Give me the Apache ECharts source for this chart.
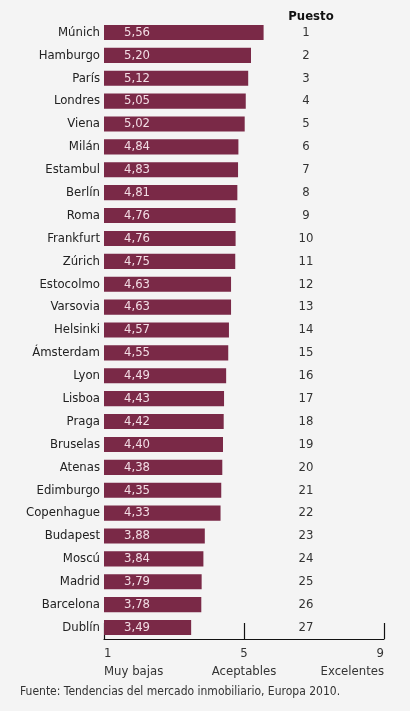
<!DOCTYPE html>
<html>
<head>
<meta charset="utf-8">
<script src="https://cdn.jsdelivr.net/npm/echarts@6/dist/echarts.min.js"></script>
<style>
  html, body { margin: 0; padding: 0; background: #f4f4f4; }
  #chart { width: 410px; height: 711px; }
</style>
</head>
<body>
<div id="chart"></div>
<script>
// ciudades, de mayor a menor
var ciudades = ["Múnich", "Hamburgo", "París", "Londres", "Viena", "Milán", "Estambul", "Berlín", "Roma",
  "Frankfurt", "Zúrich", "Estocolmo", "Varsovia", "Helsinki", "Ámsterdam", "Lyon", "Lisboa", "Praga",
  "Bruselas", "Atenas", "Edimburgo", "Copenhague", "Budapest", "Moscú", "Madrid", "Barcelona", "Dublín"];
var valores = [5.56, 5.20, 5.12, 5.05, 5.02, 4.84, 4.83, 4.81, 4.76, 4.76, 4.75, 4.63, 4.63, 4.57,
  4.55, 4.49, 4.43, 4.42, 4.40, 4.38, 4.35, 4.33, 3.88, 3.84, 3.79, 3.78, 3.49];
var puestos = ["1", "2", "3", "4", "5", "6", "7", "8", "9", "10", "11", "12", "13", "14", "15", "16",
  "17", "18", "19", "20", "21", "22", "23", "24", "25", "26", "27"];
var ejeEtiquetas = { 1: "Muy bajas", 5: "Aceptables", 9: "Excelentes" };

var fuente = "'Liberation Sans Narrow', 'DejaVu Sans Condensed', 'Roboto', sans-serif";

var chart = echarts.init(document.getElementById("chart"));
chart.setOption({
  backgroundColor: "#f4f4f4",
  animation: false,
  textStyle: { fontFamily: fuente },
  title: {
    text: "Puesto",
    left: 306,
    top: 5,
    textAlign: "center",
    textStyle: { fontSize: 13, fontWeight: "bold", color: "#111", fontFamily: fuente },
  },
  graphic: [
    {
      type: "text",
      left: 20,
      top: 686,
      style: {
        text: "Fuente: Tendencias del mercado inmobiliario, Europa 2010.",
        fontSize: 12,
        fill: "#333",
        fontFamily: fuente,
      },
    },
  ],
  grid: { left: 104, right: 26, top: 21, bottom: 72, outerBoundsMode: "none", containLabel: false },
  xAxis: {
    type: "value",
    min: 1,
    max: 9,
    interval: 4,
    axisLine: { show: true, lineStyle: { color: "#111", width: 1.2 } },
    axisTick: { show: true, inside: true, length: 16, lineStyle: { color: "#111", width: 1.2 } },
    splitLine: { show: false },
    axisLabel: {
      color: "#333",
      fontSize: 13,
      lineHeight: 18,
      margin: 6,
      alignMinLabel: "left",
      alignMaxLabel: "right",
      fontFamily: fuente,
      formatter: function (v) {
        return v + "\n" + (ejeEtiquetas[v] || "");
      },
    },
  },
  yAxis: [
    {
      type: "category",
      data: ciudades,
      inverse: true,
      axisLine: { show: false },
      axisTick: { show: false },
      axisLabel: { color: "#222", fontSize: 13, margin: 4, fontFamily: fuente },
    },
    {
      type: "category",
      data: puestos,
      inverse: true,
      position: "right",
      axisLine: { show: false },
      axisTick: { show: false },
      axisLabel: { color: "#333", fontSize: 13, margin: -78, align: "center", fontFamily: fuente },
    },
  ],
  series: [
    {
      type: "bar",
      data: valores,
      yAxisIndex: 0,
      barCategoryGap: "34%",
      itemStyle: { color: "#7a2947" },
      label: {
        show: true,
        position: "insideLeft",
        distance: 20,
        color: "#f2dce4",
        fontSize: 13,
        fontFamily: fuente,
        formatter: function (p) {
          return p.value.toFixed(2).replace(".", ",");
        },
      },
    },
  ],
});
</script>
</body>
</html>
